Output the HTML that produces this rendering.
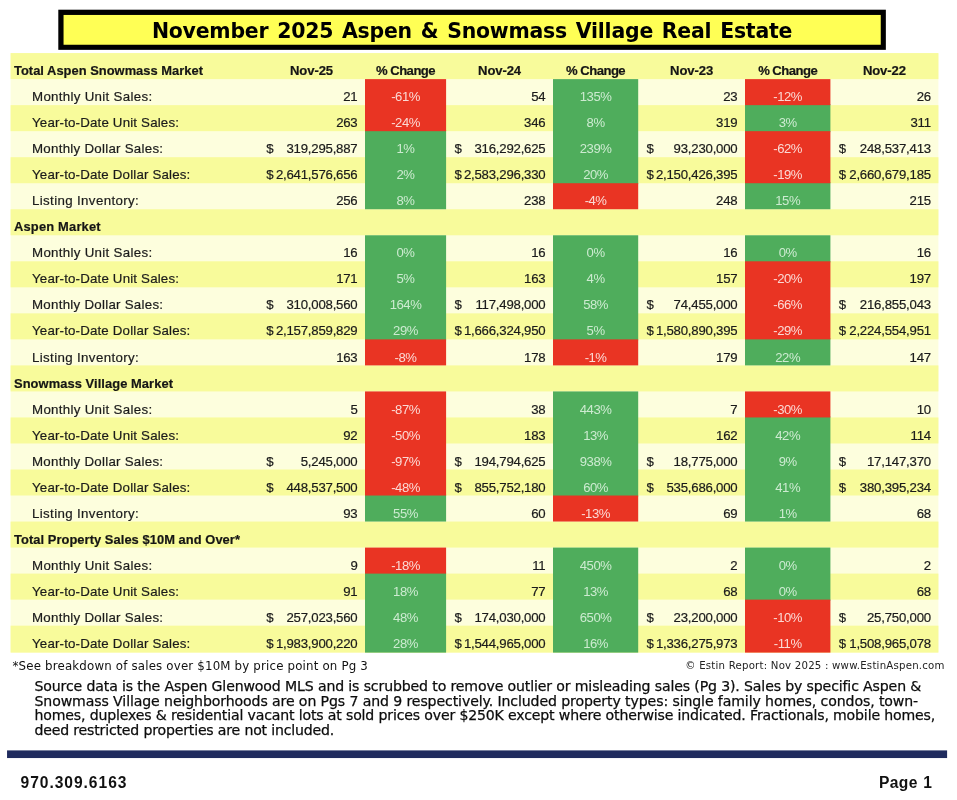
<!DOCTYPE html>
<html lang="en"><head><meta charset="utf-8"><title>November 2025 Aspen &amp; Snowmass Village Real Estate</title>
<style>
html,body{margin:0;padding:0;background:#fff;}
body{width:957px;height:800px;position:relative;overflow:hidden;font-family:"Liberation Sans",sans-serif;color:#1c1c1c;}
.a{position:absolute;white-space:nowrap;}
.t{position:absolute;white-space:nowrap;font-size:13.2px;line-height:16px;height:16px;color:#1b1b1b;-webkit-text-stroke:0.2px;}
.lb{left:32.0px;font-size:13.3px;}
.hd{left:14.0px;font-weight:bold;font-size:12.9px;color:#151515;}
.ch{font-weight:bold;text-align:center;font-size:13.1px;color:#151515;}
.num{text-align:right;letter-spacing:-0.21px;}
.pt{text-align:center;font-size:13.1px;letter-spacing:-0.45px;-webkit-text-stroke:0;}
.pt.r{color:#FBDAD5;} .pt.g{color:#CDEBD1;}
.dv{font-family:"DejaVu Sans","Liberation Sans",sans-serif;}
</style></head>
<body>
<svg class="a" style="left:0;top:0;" width="957" height="800" viewBox="0 0 957 800">
<rect x="58.3" y="9.7" width="827.55" height="40.15" fill="#000"/>
<rect x="63.55" y="14.95" width="817.2" height="29.8" fill="#FFFF55"/>
<rect x="10.6" y="53.1" width="927.8" height="599.5" fill="#FDFEDD"/>
<rect x="10.6" y="53.1" width="927.8" height="26.02" fill="#F8FB9B"/>
<rect x="10.6" y="105.15" width="927.8" height="26.02" fill="#F8FB9B"/>
<rect x="10.6" y="157.2" width="927.8" height="26.03" fill="#F8FB9B"/>
<rect x="10.6" y="209.25" width="927.8" height="26.03" fill="#F8FB9B"/>
<rect x="10.6" y="261.3" width="927.8" height="26.02" fill="#F8FB9B"/>
<rect x="10.6" y="313.35" width="927.8" height="26.02" fill="#F8FB9B"/>
<rect x="10.6" y="365.4" width="927.8" height="26.03" fill="#F8FB9B"/>
<rect x="10.6" y="417.45" width="927.8" height="26.03" fill="#F8FB9B"/>
<rect x="10.6" y="469.5" width="927.8" height="26.02" fill="#F8FB9B"/>
<rect x="10.6" y="521.55" width="927.8" height="26.02" fill="#F8FB9B"/>
<rect x="10.6" y="573.6" width="927.8" height="26.02" fill="#F8FB9B"/>
<rect x="10.6" y="625.65" width="927.8" height="26.95" fill="#F8FB9B"/>
<rect x="365" y="130.17" width="81.1" height="79.07" fill="#4FAD5C"/>
<rect x="365" y="235.27" width="81.1" height="105.1" fill="#4FAD5C"/>
<rect x="365" y="494.52" width="81.1" height="27.02" fill="#4FAD5C"/>
<rect x="365" y="572.6" width="81.1" height="80" fill="#4FAD5C"/>
<rect x="365" y="79.12" width="81.1" height="52.05" fill="#E93423"/>
<rect x="365" y="339.38" width="81.1" height="26.02" fill="#E93423"/>
<rect x="365" y="391.43" width="81.1" height="104.1" fill="#E93423"/>
<rect x="365" y="547.57" width="81.1" height="26.03" fill="#E93423"/>
<rect x="553" y="79.12" width="85.2" height="105.1" fill="#4FAD5C"/>
<rect x="553" y="235.27" width="85.2" height="105.1" fill="#4FAD5C"/>
<rect x="553" y="391.43" width="85.2" height="105.1" fill="#4FAD5C"/>
<rect x="553" y="547.57" width="85.2" height="105.03" fill="#4FAD5C"/>
<rect x="553" y="183.22" width="85.2" height="26.02" fill="#E93423"/>
<rect x="553" y="339.38" width="85.2" height="26.02" fill="#E93423"/>
<rect x="553" y="495.52" width="85.2" height="26.02" fill="#E93423"/>
<rect x="745" y="104.15" width="85.4" height="28.02" fill="#4FAD5C"/>
<rect x="745" y="182.22" width="85.4" height="27.02" fill="#4FAD5C"/>
<rect x="745" y="235.27" width="85.4" height="27.03" fill="#4FAD5C"/>
<rect x="745" y="338.38" width="85.4" height="27.02" fill="#4FAD5C"/>
<rect x="745" y="416.45" width="85.4" height="105.1" fill="#4FAD5C"/>
<rect x="745" y="547.57" width="85.4" height="53.05" fill="#4FAD5C"/>
<rect x="745" y="79.12" width="85.4" height="26.03" fill="#E93423"/>
<rect x="745" y="131.17" width="85.4" height="52.05" fill="#E93423"/>
<rect x="745" y="261.3" width="85.4" height="78.07" fill="#E93423"/>
<rect x="745" y="391.43" width="85.4" height="26.02" fill="#E93423"/>
<rect x="745" y="599.62" width="85.4" height="52.98" fill="#E93423"/>
<rect x="7.05" y="750.4" width="940.05" height="7.65" fill="#1F2B5E"/>
</svg>
<div class="a dv" id="title" style="left:151.9px;top:17.92px;font-weight:bold;font-size:20.45px;line-height:26px;color:#000;letter-spacing:-0.220px;word-spacing:1.927px;">November 2025 Aspen &amp; Snowmass Village Real Estate</div>
<div class="t hd" style="top:63px;letter-spacing:0.022px;">Total Aspen Snowmass Market</div>
<div class="t ch" style="left:258px;width:107px;top:63px;letter-spacing:-0.112px;">Nov-25</div>
<div class="t ch" style="left:365px;width:81.1px;top:63px;letter-spacing:-0.525px;">% Change</div>
<div class="t ch" style="left:446.1px;width:106.9px;top:63px;letter-spacing:-0.112px;">Nov-24</div>
<div class="t ch" style="left:553px;width:85.2px;top:63px;letter-spacing:-0.525px;">% Change</div>
<div class="t ch" style="left:638.2px;width:106.8px;top:63px;letter-spacing:-0.112px;">Nov-23</div>
<div class="t ch" style="left:745px;width:85.4px;top:63px;letter-spacing:-0.525px;">% Change</div>
<div class="t ch" style="left:830.4px;width:108px;top:63px;letter-spacing:-0.112px;">Nov-22</div>
<div class="t lb" style="top:89px;letter-spacing:0.307px;">Monthly Unit Sales:</div>
<div class="t num" style="left:258px;width:99.5px;top:89px;">21</div>
<div class="t pt r" style="left:365px;width:81.1px;top:89px;">-61%</div>
<div class="t num" style="left:446.1px;width:99.4px;top:89px;">54</div>
<div class="t pt g" style="left:553px;width:85.2px;top:89px;">135%</div>
<div class="t num" style="left:638.2px;width:99.3px;top:89px;">23</div>
<div class="t pt r" style="left:745px;width:85.4px;top:89px;">-12%</div>
<div class="t num" style="left:830.4px;width:100.5px;top:89px;">26</div>
<div class="t lb" style="top:115px;letter-spacing:0.175px;">Year-to-Date Unit Sales:</div>
<div class="t num" style="left:258px;width:99.5px;top:115px;">263</div>
<div class="t pt r" style="left:365px;width:81.1px;top:115px;">-24%</div>
<div class="t num" style="left:446.1px;width:99.4px;top:115px;">346</div>
<div class="t pt g" style="left:553px;width:85.2px;top:115px;">8%</div>
<div class="t num" style="left:638.2px;width:99.3px;top:115px;">319</div>
<div class="t pt g" style="left:745px;width:85.4px;top:115px;">3%</div>
<div class="t num" style="left:830.4px;width:100.5px;top:115px;">311</div>
<div class="t lb" style="top:141px;letter-spacing:0.269px;">Monthly Dollar Sales:</div>
<div class="t" style="left:266.3px;top:141px;">$</div><div class="t num" style="left:258px;width:99.5px;top:141px;">319,295,887</div>
<div class="t pt g" style="left:365px;width:81.1px;top:141px;">1%</div>
<div class="t" style="left:454.4px;top:141px;">$</div><div class="t num" style="left:446.1px;width:99.4px;top:141px;">316,292,625</div>
<div class="t pt g" style="left:553px;width:85.2px;top:141px;">239%</div>
<div class="t" style="left:646.5px;top:141px;">$</div><div class="t num" style="left:638.2px;width:99.3px;top:141px;">93,230,000</div>
<div class="t pt r" style="left:745px;width:85.4px;top:141px;">-62%</div>
<div class="t" style="left:838.7px;top:141px;">$</div><div class="t num" style="left:830.4px;width:100.5px;top:141px;">248,537,413</div>
<div class="t lb" style="top:167px;letter-spacing:0.170px;">Year-to-Date Dollar Sales:</div>
<div class="t" style="left:266.3px;top:167px;">$</div><div class="t num" style="left:258px;width:99.5px;top:167px;">2,641,576,656</div>
<div class="t pt g" style="left:365px;width:81.1px;top:167px;">2%</div>
<div class="t" style="left:454.4px;top:167px;">$</div><div class="t num" style="left:446.1px;width:99.4px;top:167px;">2,583,296,330</div>
<div class="t pt g" style="left:553px;width:85.2px;top:167px;">20%</div>
<div class="t" style="left:646.5px;top:167px;">$</div><div class="t num" style="left:638.2px;width:99.3px;top:167px;">2,150,426,395</div>
<div class="t pt r" style="left:745px;width:85.4px;top:167px;">-19%</div>
<div class="t" style="left:838.7px;top:167px;">$</div><div class="t num" style="left:830.4px;width:100.5px;top:167px;">2,660,679,185</div>
<div class="t lb" style="top:193px;letter-spacing:0.365px;">Listing Inventory:</div>
<div class="t num" style="left:258px;width:99.5px;top:193px;">256</div>
<div class="t pt g" style="left:365px;width:81.1px;top:193px;">8%</div>
<div class="t num" style="left:446.1px;width:99.4px;top:193px;">238</div>
<div class="t pt r" style="left:553px;width:85.2px;top:193px;">-4%</div>
<div class="t num" style="left:638.2px;width:99.3px;top:193px;">248</div>
<div class="t pt g" style="left:745px;width:85.4px;top:193px;">15%</div>
<div class="t num" style="left:830.4px;width:100.5px;top:193px;">215</div>
<div class="t hd" style="top:219px;letter-spacing:0.188px;">Aspen Market</div>
<div class="t lb" style="top:245px;letter-spacing:0.307px;">Monthly Unit Sales:</div>
<div class="t num" style="left:258px;width:99.5px;top:245px;">16</div>
<div class="t pt g" style="left:365px;width:81.1px;top:245px;">0%</div>
<div class="t num" style="left:446.1px;width:99.4px;top:245px;">16</div>
<div class="t pt g" style="left:553px;width:85.2px;top:245px;">0%</div>
<div class="t num" style="left:638.2px;width:99.3px;top:245px;">16</div>
<div class="t pt g" style="left:745px;width:85.4px;top:245px;">0%</div>
<div class="t num" style="left:830.4px;width:100.5px;top:245px;">16</div>
<div class="t lb" style="top:271px;letter-spacing:0.175px;">Year-to-Date Unit Sales:</div>
<div class="t num" style="left:258px;width:99.5px;top:271px;">171</div>
<div class="t pt g" style="left:365px;width:81.1px;top:271px;">5%</div>
<div class="t num" style="left:446.1px;width:99.4px;top:271px;">163</div>
<div class="t pt g" style="left:553px;width:85.2px;top:271px;">4%</div>
<div class="t num" style="left:638.2px;width:99.3px;top:271px;">157</div>
<div class="t pt r" style="left:745px;width:85.4px;top:271px;">-20%</div>
<div class="t num" style="left:830.4px;width:100.5px;top:271px;">197</div>
<div class="t lb" style="top:297px;letter-spacing:0.269px;">Monthly Dollar Sales:</div>
<div class="t" style="left:266.3px;top:297px;">$</div><div class="t num" style="left:258px;width:99.5px;top:297px;">310,008,560</div>
<div class="t pt g" style="left:365px;width:81.1px;top:297px;">164%</div>
<div class="t" style="left:454.4px;top:297px;">$</div><div class="t num" style="left:446.1px;width:99.4px;top:297px;">117,498,000</div>
<div class="t pt g" style="left:553px;width:85.2px;top:297px;">58%</div>
<div class="t" style="left:646.5px;top:297px;">$</div><div class="t num" style="left:638.2px;width:99.3px;top:297px;">74,455,000</div>
<div class="t pt r" style="left:745px;width:85.4px;top:297px;">-66%</div>
<div class="t" style="left:838.7px;top:297px;">$</div><div class="t num" style="left:830.4px;width:100.5px;top:297px;">216,855,043</div>
<div class="t lb" style="top:323px;letter-spacing:0.170px;">Year-to-Date Dollar Sales:</div>
<div class="t" style="left:266.3px;top:323px;">$</div><div class="t num" style="left:258px;width:99.5px;top:323px;">2,157,859,829</div>
<div class="t pt g" style="left:365px;width:81.1px;top:323px;">29%</div>
<div class="t" style="left:454.4px;top:323px;">$</div><div class="t num" style="left:446.1px;width:99.4px;top:323px;">1,666,324,950</div>
<div class="t pt g" style="left:553px;width:85.2px;top:323px;">5%</div>
<div class="t" style="left:646.5px;top:323px;">$</div><div class="t num" style="left:638.2px;width:99.3px;top:323px;">1,580,890,395</div>
<div class="t pt r" style="left:745px;width:85.4px;top:323px;">-29%</div>
<div class="t" style="left:838.7px;top:323px;">$</div><div class="t num" style="left:830.4px;width:100.5px;top:323px;">2,224,554,951</div>
<div class="t lb" style="top:350px;letter-spacing:0.365px;">Listing Inventory:</div>
<div class="t num" style="left:258px;width:99.5px;top:350px;">163</div>
<div class="t pt r" style="left:365px;width:81.1px;top:350px;">-8%</div>
<div class="t num" style="left:446.1px;width:99.4px;top:350px;">178</div>
<div class="t pt r" style="left:553px;width:85.2px;top:350px;">-1%</div>
<div class="t num" style="left:638.2px;width:99.3px;top:350px;">179</div>
<div class="t pt g" style="left:745px;width:85.4px;top:350px;">22%</div>
<div class="t num" style="left:830.4px;width:100.5px;top:350px;">147</div>
<div class="t hd" style="top:376px;letter-spacing:0.070px;">Snowmass Village Market</div>
<div class="t lb" style="top:402px;letter-spacing:0.307px;">Monthly Unit Sales:</div>
<div class="t num" style="left:258px;width:99.5px;top:402px;">5</div>
<div class="t pt r" style="left:365px;width:81.1px;top:402px;">-87%</div>
<div class="t num" style="left:446.1px;width:99.4px;top:402px;">38</div>
<div class="t pt g" style="left:553px;width:85.2px;top:402px;">443%</div>
<div class="t num" style="left:638.2px;width:99.3px;top:402px;">7</div>
<div class="t pt r" style="left:745px;width:85.4px;top:402px;">-30%</div>
<div class="t num" style="left:830.4px;width:100.5px;top:402px;">10</div>
<div class="t lb" style="top:428px;letter-spacing:0.175px;">Year-to-Date Unit Sales:</div>
<div class="t num" style="left:258px;width:99.5px;top:428px;">92</div>
<div class="t pt r" style="left:365px;width:81.1px;top:428px;">-50%</div>
<div class="t num" style="left:446.1px;width:99.4px;top:428px;">183</div>
<div class="t pt g" style="left:553px;width:85.2px;top:428px;">13%</div>
<div class="t num" style="left:638.2px;width:99.3px;top:428px;">162</div>
<div class="t pt g" style="left:745px;width:85.4px;top:428px;">42%</div>
<div class="t num" style="left:830.4px;width:100.5px;top:428px;">114</div>
<div class="t lb" style="top:454px;letter-spacing:0.269px;">Monthly Dollar Sales:</div>
<div class="t" style="left:266.3px;top:454px;">$</div><div class="t num" style="left:258px;width:99.5px;top:454px;">5,245,000</div>
<div class="t pt r" style="left:365px;width:81.1px;top:454px;">-97%</div>
<div class="t" style="left:454.4px;top:454px;">$</div><div class="t num" style="left:446.1px;width:99.4px;top:454px;">194,794,625</div>
<div class="t pt g" style="left:553px;width:85.2px;top:454px;">938%</div>
<div class="t" style="left:646.5px;top:454px;">$</div><div class="t num" style="left:638.2px;width:99.3px;top:454px;">18,775,000</div>
<div class="t pt g" style="left:745px;width:85.4px;top:454px;">9%</div>
<div class="t" style="left:838.7px;top:454px;">$</div><div class="t num" style="left:830.4px;width:100.5px;top:454px;">17,147,370</div>
<div class="t lb" style="top:480px;letter-spacing:0.170px;">Year-to-Date Dollar Sales:</div>
<div class="t" style="left:266.3px;top:480px;">$</div><div class="t num" style="left:258px;width:99.5px;top:480px;">448,537,500</div>
<div class="t pt r" style="left:365px;width:81.1px;top:480px;">-48%</div>
<div class="t" style="left:454.4px;top:480px;">$</div><div class="t num" style="left:446.1px;width:99.4px;top:480px;">855,752,180</div>
<div class="t pt g" style="left:553px;width:85.2px;top:480px;">60%</div>
<div class="t" style="left:646.5px;top:480px;">$</div><div class="t num" style="left:638.2px;width:99.3px;top:480px;">535,686,000</div>
<div class="t pt g" style="left:745px;width:85.4px;top:480px;">41%</div>
<div class="t" style="left:838.7px;top:480px;">$</div><div class="t num" style="left:830.4px;width:100.5px;top:480px;">380,395,234</div>
<div class="t lb" style="top:506px;letter-spacing:0.365px;">Listing Inventory:</div>
<div class="t num" style="left:258px;width:99.5px;top:506px;">93</div>
<div class="t pt g" style="left:365px;width:81.1px;top:506px;">55%</div>
<div class="t num" style="left:446.1px;width:99.4px;top:506px;">60</div>
<div class="t pt r" style="left:553px;width:85.2px;top:506px;">-13%</div>
<div class="t num" style="left:638.2px;width:99.3px;top:506px;">69</div>
<div class="t pt g" style="left:745px;width:85.4px;top:506px;">1%</div>
<div class="t num" style="left:830.4px;width:100.5px;top:506px;">68</div>
<div class="t hd" style="top:532px;letter-spacing:0.057px;">Total Property Sales $10M and Over*</div>
<div class="t lb" style="top:558px;letter-spacing:0.307px;">Monthly Unit Sales:</div>
<div class="t num" style="left:258px;width:99.5px;top:558px;">9</div>
<div class="t pt r" style="left:365px;width:81.1px;top:558px;">-18%</div>
<div class="t num" style="left:446.1px;width:99.4px;top:558px;">11</div>
<div class="t pt g" style="left:553px;width:85.2px;top:558px;">450%</div>
<div class="t num" style="left:638.2px;width:99.3px;top:558px;">2</div>
<div class="t pt g" style="left:745px;width:85.4px;top:558px;">0%</div>
<div class="t num" style="left:830.4px;width:100.5px;top:558px;">2</div>
<div class="t lb" style="top:584px;letter-spacing:0.175px;">Year-to-Date Unit Sales:</div>
<div class="t num" style="left:258px;width:99.5px;top:584px;">91</div>
<div class="t pt g" style="left:365px;width:81.1px;top:584px;">18%</div>
<div class="t num" style="left:446.1px;width:99.4px;top:584px;">77</div>
<div class="t pt g" style="left:553px;width:85.2px;top:584px;">13%</div>
<div class="t num" style="left:638.2px;width:99.3px;top:584px;">68</div>
<div class="t pt g" style="left:745px;width:85.4px;top:584px;">0%</div>
<div class="t num" style="left:830.4px;width:100.5px;top:584px;">68</div>
<div class="t lb" style="top:610px;letter-spacing:0.269px;">Monthly Dollar Sales:</div>
<div class="t" style="left:266.3px;top:610px;">$</div><div class="t num" style="left:258px;width:99.5px;top:610px;">257,023,560</div>
<div class="t pt g" style="left:365px;width:81.1px;top:610px;">48%</div>
<div class="t" style="left:454.4px;top:610px;">$</div><div class="t num" style="left:446.1px;width:99.4px;top:610px;">174,030,000</div>
<div class="t pt g" style="left:553px;width:85.2px;top:610px;">650%</div>
<div class="t" style="left:646.5px;top:610px;">$</div><div class="t num" style="left:638.2px;width:99.3px;top:610px;">23,200,000</div>
<div class="t pt r" style="left:745px;width:85.4px;top:610px;">-10%</div>
<div class="t" style="left:838.7px;top:610px;">$</div><div class="t num" style="left:830.4px;width:100.5px;top:610px;">25,750,000</div>
<div class="t lb" style="top:636px;letter-spacing:0.170px;">Year-to-Date Dollar Sales:</div>
<div class="t" style="left:266.3px;top:636px;">$</div><div class="t num" style="left:258px;width:99.5px;top:636px;">1,983,900,220</div>
<div class="t pt g" style="left:365px;width:81.1px;top:636px;">28%</div>
<div class="t" style="left:454.4px;top:636px;">$</div><div class="t num" style="left:446.1px;width:99.4px;top:636px;">1,544,965,000</div>
<div class="t pt g" style="left:553px;width:85.2px;top:636px;">16%</div>
<div class="t" style="left:646.5px;top:636px;">$</div><div class="t num" style="left:638.2px;width:99.3px;top:636px;">1,336,275,973</div>
<div class="t pt r" style="left:745px;width:85.4px;top:636px;">-11%</div>
<div class="t" style="left:838.7px;top:636px;">$</div><div class="t num" style="left:830.4px;width:100.5px;top:636px;">1,508,965,078</div>
<div class="a dv" id="fn" style="left:12.5px;top:659.42px;font-size:11.8px;line-height:14px;color:#111;letter-spacing:0.178px;">*See breakdown of sales over $10M by price point on Pg 3</div>
<div class="a dv" id="cp" style="left:685.3px;top:659.47px;font-size:10.2px;line-height:13px;color:#222;letter-spacing:0.211px;">© Estin Report: Nov 2025 : www.EstinAspen.com</div>
<div class="a dv" id="s0" style="left:34.5px;top:679px;font-size:14.1px;line-height:15px;color:#0c0c0c;-webkit-text-stroke:0.25px;letter-spacing:-0.136px;">Source data is the Aspen Glenwood MLS and is scrubbed to remove outlier or misleading sales (Pg 3). Sales by specific Aspen &amp;</div>
<div class="a dv" id="s1" style="left:34.5px;top:694px;font-size:14.1px;line-height:15px;color:#0c0c0c;-webkit-text-stroke:0.25px;letter-spacing:-0.107px;">Snowmass Village neighborhoods are on Pgs 7 and 9 respectively. Included property types: single family homes, condos, town-</div>
<div class="a dv" id="s2" style="left:34.5px;top:708px;font-size:14.1px;line-height:15px;color:#0c0c0c;-webkit-text-stroke:0.25px;letter-spacing:-0.158px;">homes, duplexes &amp; residential vacant lots at sold prices over $250K except where otherwise indicated. Fractionals, mobile homes,</div>
<div class="a dv" id="s3" style="left:34.5px;top:723px;font-size:14.1px;line-height:15px;color:#0c0c0c;-webkit-text-stroke:0.25px;letter-spacing:-0.181px;">deed restricted properties are not included.</div>
<div class="a" id="ph" style="left:20.5px;top:773.59px;font-size:15.6px;line-height:18px;font-weight:bold;color:#111;letter-spacing:0.959px;">970.309.6163</div>
<div class="a" id="pg" style="left:878.9px;top:773.59px;font-size:15.6px;line-height:18px;font-weight:bold;color:#111;letter-spacing:0.42px;word-spacing:0.6px;">Page 1</div>
</body></html>
